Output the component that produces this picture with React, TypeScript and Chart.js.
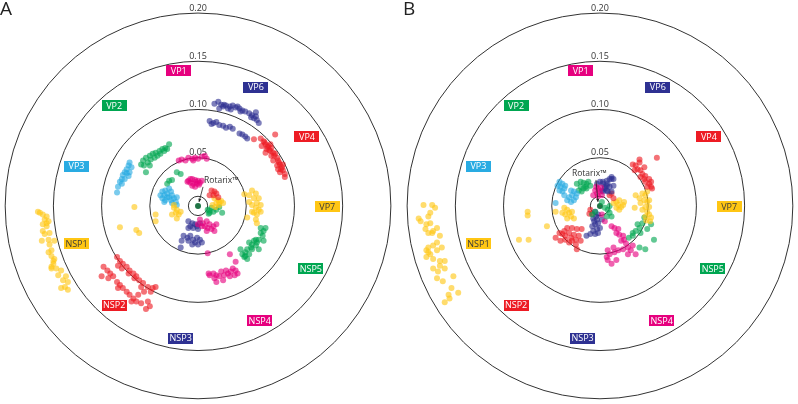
import React, { useEffect, useRef } from "react";
import { Chart, registerables } from "chart.js";
Chart.register(...registerables);

// ---- scale / rings ----
const RING_TICKS = [0.05, 0.1, 0.15, 0.2];
const RING_LABELS = ["0.05", "0.10", "0.15", "0.20"];
const INNER_RING = 0.01;

// ---- segments ----
const SEGMENTS = ["VP1", "VP6", "VP4", "VP7", "NSP5", "NSP4", "NSP3", "NSP2", "NSP1", "VP3", "VP2"];

// ---- Panel A values (distance coordinates, x 1e-3) ----
const A_VP1 = [[-20,47],[-17,48],[-13,47],[-10,50],[-6,49],[-3,50],[0,49],[4,51],[7,52],[9,49],[-5,47],[-10,26],[-6,28],[-3,27],[0,26],[2,24],[-1,23],[-5,23],[-8,24],[-6,21],[-3,20],[-11,25],[4,26],[-8,28],[-2,25],[1,22]];
const A_VP6 = [[17,106],[21,108],[24,105],[26,103],[29,104],[33,103],[36,104],[39,102],[43,101],[46,99],[49,98],[53,96],[56,94],[60,97],[58,91],[61,89],[63,86],[22,101],[27,105],[31,101],[34,100],[41,103],[44,98],[55,92],[60,93],[12,88],[16,86],[19,87],[22,84],[26,83],[29,81],[33,82],[36,80],[43,75],[46,74],[49,72],[51,70],[14,85]];
const A_VP4 = [[65,70],[68,67],[70,64],[73,62],[71,59],[75,57],[76,60],[78,55],[80,54],[82,50],[76,52],[83,47],[85,43],[82,42],[87,40],[88,37],[85,35],[90,33],[90,30],[80,74],[75,64],[66,62],[70,55],[78,47],[83,38],[88,43],[58,69],[72,61],[79,52],[84,45],[86,38],[74,58],[69,66],[14,16],[17,15],[16,11],[19,13],[12,11],[21,9]];
const A_VP7 = [[56,16],[60,13],[53,11],[58,8],[63,8],[61,3],[65,1],[56,1],[60,-2],[63,-4],[58,-7],[61,-9],[53,4],[51,-12],[60,-14],[61,-18],[65,-6],[48,12],[56,-6],[17,8],[21,6],[24,5],[19,3],[22,1],[15,1],[26,3],[18,-1],[22,4]];
const A_NSP5 = [[70,-23],[68,-26],[65,-28],[67,-31],[63,-35],[61,-38],[58,-36],[60,-41],[56,-40],[53,-38],[55,-43],[51,-45],[49,-48],[46,-50],[48,-53],[44,-45],[51,-55],[63,-45],[68,-36],[65,-23],[56,-45],[53,-50],[60,-35],[49,-52],[10,-4],[14,-2],[12,-7],[16,-6],[19,-4],[25,-7],[22,-1],[12,-5],[11,-8]];
const A_NSP4 = [[33,-50],[36,-65],[39,-67],[34,-68],[31,-70],[27,-72],[24,-68],[22,-73],[19,-72],[17,-75],[16,-70],[12,-72],[19,-79],[26,-77],[38,-72],[41,-70],[29,-67],[33,-73],[39,-58],[11,-70],[2,-14],[5,-18],[9,-16],[12,-19],[7,-21],[10,-23],[14,-24],[16,-21],[4,-21],[9,-26],[17,-26],[19,-19],[0,-19],[10,-49]];
const A_NSP3 = [[-10,-16],[-6,-18],[-3,-19],[-8,-21],[-5,-23],[-1,-21],[0,-24],[-10,-23],[2,-18],[-15,-31],[-11,-33],[-8,-31],[-5,-35],[-1,-33],[2,-35],[-10,-36],[-3,-38],[0,-40],[-6,-40],[-17,-36],[-18,-43],[4,-38]];
const A_NSP2 = [[-84,-53],[-81,-57],[-78,-60],[-74,-63],[-71,-67],[-67,-70],[-64,-73],[-61,-77],[-57,-80],[-52,-84],[-47,-85],[-44,-84],[-83,-62],[-79,-65],[-72,-70],[-66,-75],[-59,-84],[-98,-63],[-94,-67],[-91,-70],[-88,-73],[-84,-79],[-81,-82],[-78,-85],[-74,-89],[-71,-92],[-67,-96],[-64,-99],[-59,-101],[-52,-99],[-50,-104],[-54,-107],[-100,-73],[-93,-75],[-83,-85],[-69,-99],[-62,-92],[-56,-89],[-49,-89]];
const A_NSP1 = [[-166,-6],[-164,-7],[-161,-9],[-157,-11],[-159,-14],[-155,-16],[-161,-19],[-157,-21],[-161,-26],[-159,-29],[-154,-28],[-155,-35],[-162,-36],[-154,-40],[-149,-36],[-152,-46],[-155,-48],[-152,-52],[-149,-55],[-150,-60],[-152,-63],[-147,-65],[-142,-67],[-145,-72],[-137,-73],[-140,-77],[-135,-79],[-138,-84],[-135,-87],[-142,-85],[-150,-57],[-152,-65],[-157,-18],[-66,-1],[-44,-9],[-44,-16],[-81,-22],[-64,-25],[-61,-28],[-25,-2],[-22,-4],[-23,-7],[-20,-9],[-27,-9],[-18,-6],[-22,-13],[-25,1]];
const A_VP3 = [[-71,45],[-72,42],[-74,38],[-76,35],[-78,32],[-79,28],[-81,25],[-83,20],[-84,14],[-69,40],[-71,35],[-74,34],[-76,28],[-79,23],[-72,31],[-37,15],[-34,16],[-35,11],[-32,13],[-28,15],[-30,9],[-27,11],[-25,8],[-28,6],[-34,6],[-37,8],[-22,9],[-23,4],[-22,1],[-27,3],[-32,9],[-35,4],[-39,11],[-30,18]];
const A_VP2 = [[-30,64],[-34,60],[-37,59],[-40,57],[-44,55],[-47,54],[-50,52],[-54,50],[-57,47],[-59,43],[-52,45],[-49,48],[-45,50],[-42,52],[-39,54],[-35,57],[-32,59],[-54,35],[-50,42],[-56,42],[-22,35],[-18,33],[-30,26],[-32,23],[-27,27]];

// ---- Panel B values ----
const B_VP1 = [[-5,16],[-2,18],[-3,13],[0,15],[-2,10],[2,11],[-7,11],[-4,20],[1,19]];
const B_VP6 = [[3,25],[7,26],[10,28],[12,30],[8,23],[5,20],[10,20],[14,21],[7,16],[12,15],[3,15],[14,28],[-3,23],[0,25],[3,23],[7,21],[5,18],[2,16],[8,15],[12,28]];
const B_VP4 = [[34,43],[37,42],[41,45],[39,38],[42,37],[44,33],[42,30],[46,28],[47,25],[51,23],[49,20],[53,20],[54,18],[41,48],[59,50],[36,37],[47,31],[51,28],[46,40],[53,25],[10,11],[14,8],[12,13]];
const B_VP7 = [[37,11],[41,8],[44,13],[47,11],[46,6],[49,4],[42,3],[47,-1],[51,-1],[49,-6],[51,-9],[47,-11],[53,-12],[36,-2],[44,-4],[49,15],[51,6],[48,-15],[52,-16],[14,3],[17,4],[20,6],[19,1],[22,-1],[24,1],[20,-4],[17,-2],[25,4]];
const B_NSP5 = [[46,-12],[44,-18],[41,-23],[37,-26],[34,-31],[30,-33],[34,-28],[42,-28],[49,-24],[53,-19],[56,-35],[47,-45],[41,-43],[39,-19],[5,-2],[8,-4],[10,-7],[12,-11],[7,-11],[-5,-6],[-8,-9],[2,4],[10,0]];
const B_NSP4 = [[12,-21],[15,-23],[19,-24],[17,-28],[20,-30],[24,-31],[25,-35],[22,-36],[27,-39],[29,-43],[24,-45],[19,-46],[15,-48],[10,-50],[7,-53],[8,-56],[12,-60],[17,-56],[29,-50],[34,-41],[37,-50],[32,-46],[14,-43],[8,-46],[2,-9],[5,-16]];
const B_NSP3 = [[-5,-6],[-2,-9],[-7,-13],[-3,-14],[-2,-18],[-5,-19],[-8,-21],[-3,-24],[-7,-26],[-5,-29],[0,-23],[-10,-29],[-14,-31],[-2,-28],[2,-14],[-4,-11],[-6,-16]];
const B_NSP2 = [[-42,-28],[-39,-29],[-37,-26],[-36,-31],[-34,-23],[-32,-28],[-30,-33],[-29,-36],[-27,-30],[-25,-35],[-24,-24],[-22,-31],[-20,-36],[-29,-23],[-25,-40],[-24,-45],[-32,-38],[-36,-35],[-19,-24],[-46,-33],[-41,-36],[-10,-4],[-8,-8],[-11,-8]];
const B_NSP1 = [[-183,1],[-174,1],[-171,-2],[-176,-7],[-178,-11],[-188,-13],[-186,-16],[-180,-19],[-181,-24],[-178,-28],[-174,-28],[-173,-26],[-169,-23],[-166,-31],[-169,-38],[-173,-41],[-178,-43],[-180,-46],[-176,-50],[-180,-53],[-173,-55],[-169,-46],[-164,-43],[-166,-57],[-161,-57],[-173,-65],[-168,-68],[-161,-65],[-169,-75],[-163,-78],[-152,-73],[-154,-85],[-157,-92],[-156,-96],[-161,-100],[-147,-90],[-178,-48],[-166,-62],[-176,-18],[-75,-6],[-75,-10],[-55,-21],[-84,-35],[-74,-35],[-37,-2],[-34,-4],[-32,-7],[-36,-9],[-30,-11],[-34,-13],[-29,-6],[-39,-7],[-27,-13],[-46,-6]];
const B_VP3 = [[-42,25],[-39,23],[-41,20],[-37,18],[-36,21],[-39,15],[-42,16],[-44,21],[-30,16],[-27,15],[-29,11],[-32,9],[-25,9],[-27,6],[-30,4],[-34,6],[-24,13],[-46,3],[-37,11]];
const B_VP2 = [[-24,23],[-20,25],[-17,24],[-14,23],[-10,21],[-20,20],[-17,18],[-14,18],[-22,16],[-19,15],[-15,20],[-12,25]];

const ROTARIX = [[0, 0]];

const A_SETS = [A_VP1, A_VP6, A_VP4, A_VP7, A_NSP5, A_NSP4, A_NSP3, A_NSP2, A_NSP1, A_VP3, A_VP2];
const B_SETS = [B_VP1, B_VP6, B_VP4, B_VP7, B_NSP5, B_NSP4, B_NSP3, B_NSP2, B_NSP1, B_VP3, B_VP2];

// ---- styling / layout (not data) ----
const SEG_RGB: Record<string, string> = {
  VP1: "230,0,126", NSP4: "230,0,126",
  VP6: "46,49,146", NSP3: "46,49,146",
  VP4: "237,28,36", NSP2: "237,28,36",
  VP7: "255,198,20", NSP1: "255,198,20",
  VP2: "0,166,81", NSP5: "0,166,81",
  VP3: "41,171,226",
};
const LABEL_POS: Record<string, [number, number]> = {
  VP1: [-0.020, 0.140], VP6: [0.060, 0.123], VP4: [0.113, 0.072], VP7: [0.134, -0.001],
  NSP5: [0.117, -0.065], NSP4: [0.064, -0.119], NSP3: [-0.018, -0.137], NSP2: [-0.087, -0.103],
  NSP1: [-0.126, -0.039], VP3: [-0.126, 0.041], VP2: [-0.087, 0.104],
};
const UNIT_PX = 984;
const W = 399, H = 404;
const FONT = "'Open Sans', 'Noto Sans', sans-serif";

function makeDecor(letter: string, rot: { tx: number; ty: number; x1: number; y1: number; x2: number; y2: number }) {
  return {
    id: "decor" + letter,
    beforeDatasetsDraw(chart: any) {
      const { ctx } = chart;
      const x = chart.scales.x, y = chart.scales.y;
      const cx = x.getPixelForValue(0), cy = y.getPixelForValue(0);
      const u = x.getPixelForValue(1) - cx;
      ctx.save();
      ctx.strokeStyle = "#333";
      ctx.lineWidth = 1;
      [INNER_RING, ...RING_TICKS].forEach((r) => {
        ctx.beginPath();
        ctx.arc(cx, cy, r * u, 0, Math.PI * 2);
        ctx.stroke();
      });
      ctx.fillStyle = "#333";
      ctx.font = "9px " + FONT;
      ctx.textAlign = "center";
      ctx.textBaseline = "alphabetic";
      RING_TICKS.forEach((r, i) => ctx.fillText(RING_LABELS[i], cx, cy - r * u - 2.5));
      ctx.restore();
    },
    afterDatasetsDraw(chart: any) {
      const { ctx } = chart;
      const x = chart.scales.x, y = chart.scales.y;
      const cx = x.getPixelForValue(0), cy = y.getPixelForValue(0);
      ctx.save();
      // segment labels
      ctx.font = "9px " + FONT;
      ctx.textAlign = "center";
      ctx.textBaseline = "middle";
      SEGMENTS.forEach((s) => {
        const [lx, ly] = LABEL_POS[s];
        const px = x.getPixelForValue(lx), py = y.getPixelForValue(ly);
        ctx.fillStyle = "rgb(" + SEG_RGB[s] + ")";
        ctx.fillRect(Math.round(px - 12.5), Math.round(py - 5.5), 25, 11);
        ctx.fillStyle = s === "VP7" || s === "NSP1" ? "#3a3a3a" : "#ffffff";
        ctx.fillText(s, px, py + 0.5);
      });
      // Rotarix label + pointer
      ctx.fillStyle = "#333";
      ctx.textAlign = "left";
      ctx.textBaseline = "alphabetic";
      ctx.font = "8.5px " + FONT;
      ctx.fillText("Rotarix\u2122", cx + rot.tx, cy + rot.ty);
      ctx.strokeStyle = "#222";
      ctx.lineWidth = 0.8;
      ctx.beginPath();
      ctx.moveTo(cx + rot.x1, cy + rot.y1);
      ctx.lineTo(cx + rot.x2, cy + rot.y2);
      ctx.stroke();
      const ang = Math.atan2(rot.y2 - rot.y1, rot.x2 - rot.x1);
      ctx.fillStyle = "#222";
      ctx.beginPath();
      ctx.moveTo(cx + rot.x2, cy + rot.y2);
      ctx.lineTo(cx + rot.x2 - 3.5 * Math.cos(ang - 0.45), cy + rot.y2 - 3.5 * Math.sin(ang - 0.45));
      ctx.lineTo(cx + rot.x2 - 3.5 * Math.cos(ang + 0.45), cy + rot.y2 - 3.5 * Math.sin(ang + 0.45));
      ctx.closePath();
      ctx.fill();
      // panel letter
      ctx.fillStyle = "#222";
      ctx.font = "19px " + FONT;
      ctx.textAlign = "left";
      ctx.fillText(letter, letter === "A" ? 0 : 4, 15);
      ctx.restore();
    },
  };
}

function buildChart(canvas: HTMLCanvasElement, sets: number[][][], cxLocal: number, letter: string, rot: any) {
  const datasets: any[] = sets.map((pts, i) => ({
    label: SEGMENTS[i],
    data: pts.map(([a, b]) => ({ x: a / 1000, y: b / 1000 })),
    backgroundColor: "rgba(" + SEG_RGB[SEGMENTS[i]] + ",0.62)",
    borderWidth: 0,
    pointRadius: 3,
  }));
  datasets.push({
    label: "Rotarix",
    data: ROTARIX.map(([a, b]) => ({ x: a, y: b })),
    backgroundColor: "rgba(20,110,60,0.95)",
    borderWidth: 0,
    pointRadius: 3,
  });
  const cyLocal = 206;
  return new Chart(canvas, {
    type: "scatter",
    data: { datasets },
    options: {
      animation: false,
      responsive: false,
      devicePixelRatio: 1,
      events: [],
      layout: { padding: 0 },
      plugins: { legend: { display: false }, tooltip: { enabled: false } },
      scales: {
        x: { type: "linear", display: false, min: -cxLocal / UNIT_PX, max: (W - cxLocal) / UNIT_PX },
        y: { type: "linear", display: false, min: -(H - cyLocal) / UNIT_PX, max: cyLocal / UNIT_PX },
      },
    },
    plugins: [makeDecor(letter, rot)],
  } as any);
}

export default function App() {
  const refA = useRef<HTMLCanvasElement>(null);
  const refB = useRef<HTMLCanvasElement>(null);
  useEffect(() => {
    const a = buildChart(refA.current!, A_SETS, 198, "A", { tx: 6, ty: -23, x1: 5, y1: -19, x2: 1, y2: -4 });
    const b = buildChart(refB.current!, B_SETS, 201, "B", { tx: -28, ty: -30, x1: -4, y1: -26, x2: -2, y2: -4 });
    return () => {
      a.destroy();
      b.destroy();
    };
  }, []);
  return (
    <div style={{ position: "absolute", left: 0, top: 0, width: 798, height: 404, background: "#fff" }}>
      <canvas ref={refA} width={W} height={H} style={{ position: "absolute", left: 0, top: 0 }} />
      <canvas ref={refB} width={W} height={H} style={{ position: "absolute", left: 399, top: 0 }} />
    </div>
  );
}
